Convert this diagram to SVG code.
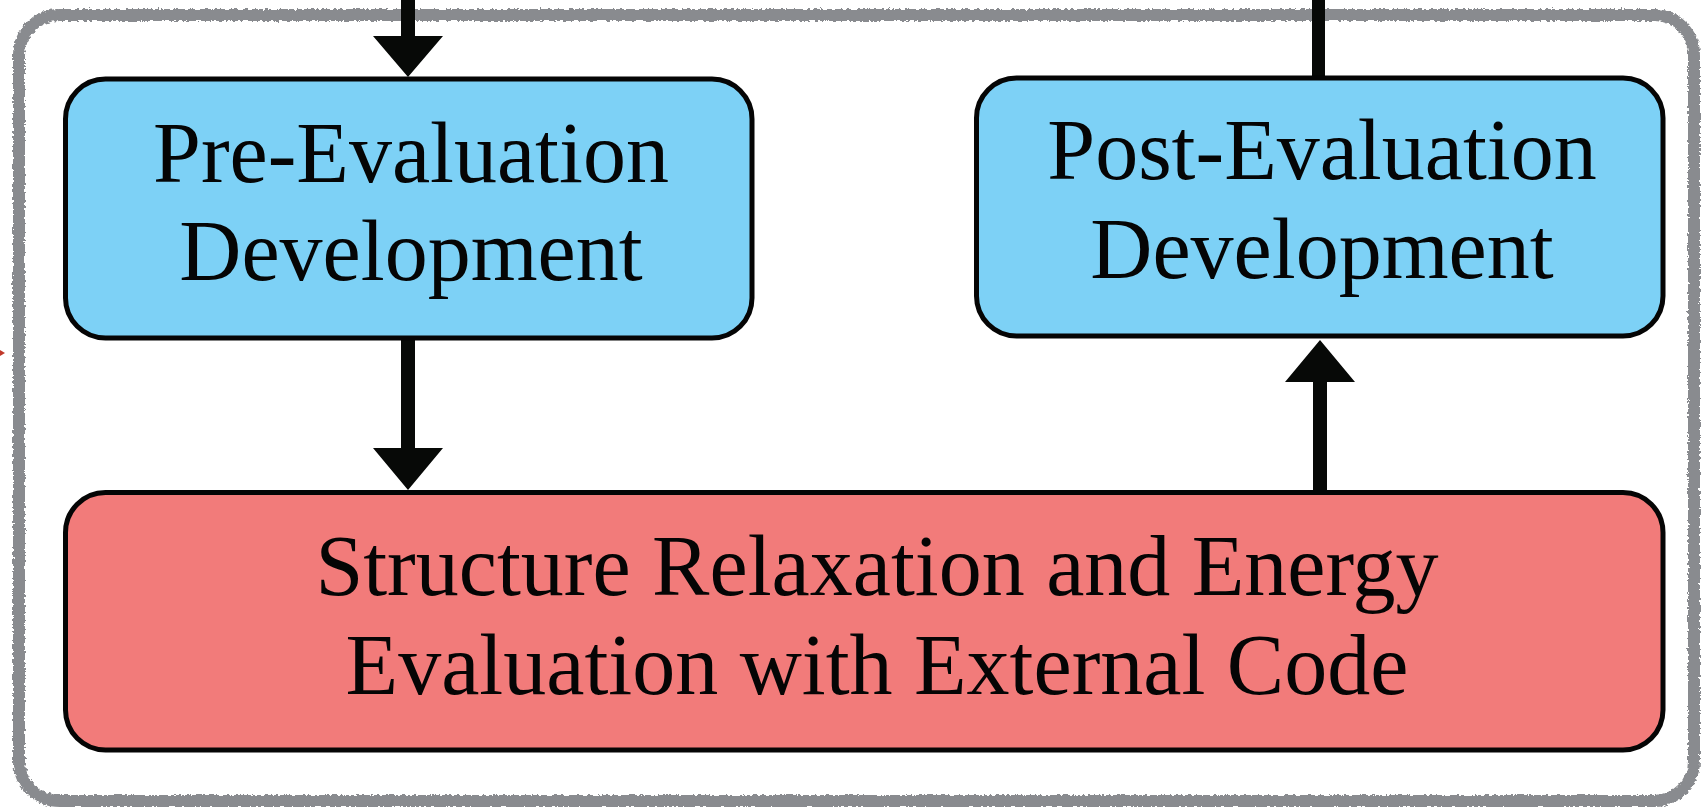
<svg xmlns="http://www.w3.org/2000/svg" width="1701" height="807" viewBox="0 0 1701 807">
<style>
.box{stroke:#050505;stroke-width:5}
.blue{fill:#7dd1f6}
.red{fill:#f27b7a}
.lbl{font-family:"Liberation Serif","Times New Roman",serif;font-size:86px;fill:#050505;text-anchor:middle}
.arr{fill:#070907}
</style>
<defs>
<filter id="rough" x="-5%" y="-5%" width="110%" height="110%">
<feTurbulence type="fractalNoise" baseFrequency="0.35" numOctaves="2" seed="3" result="n"/>
<feDisplacementMap in="SourceGraphic" in2="n" scale="5" xChannelSelector="R" yChannelSelector="G"/>
</filter>
</defs>
<rect width="1701" height="807" fill="#ffffff"/>
<g id="frame">
<rect x="19" y="15" width="1675" height="786" rx="40" fill="none" stroke="#898b8f" stroke-width="12" filter="url(#rough)"/>
</g>
<path d="M0 350 L5 353 L0 356 Z" fill="#c0392b"/>
<g id="connectors">
<polygon class="arr" points="401,0 415,0 415,36 443,36 408,77 373,36 401,36"/>
<polygon class="arr" points="401,340 415,340 415,448 443,448 408,490 373,448 401,448"/>
<polygon class="arr" points="1313,492 1327,492 1327,382 1355,382 1320,340 1285,382 1313,382"/>
<rect class="arr" x="1312" y="0" width="13" height="78"/>
</g>
<g id="pre-eval">
<rect class="box blue" x="65.5" y="79" width="686.5" height="259" rx="40"/>
<text class="lbl" x="411" y="182">Pre-Evaluation</text>
<text class="lbl" x="411" y="280">Development</text>
</g>
<g id="post-eval">
<rect class="box blue" x="976.5" y="78" width="686.5" height="258" rx="40"/>
<text class="lbl" x="1322" y="179">Post-Evaluation</text>
<text class="lbl" x="1322" y="278">Development</text>
</g>
<g id="relax">
<rect class="box red" x="65.5" y="492.5" width="1597.5" height="257.5" rx="40"/>
<text class="lbl" x="877" y="595">Structure Relaxation and Energy</text>
<text class="lbl" x="877" y="694">Evaluation with External Code</text>
</g>
</svg>
